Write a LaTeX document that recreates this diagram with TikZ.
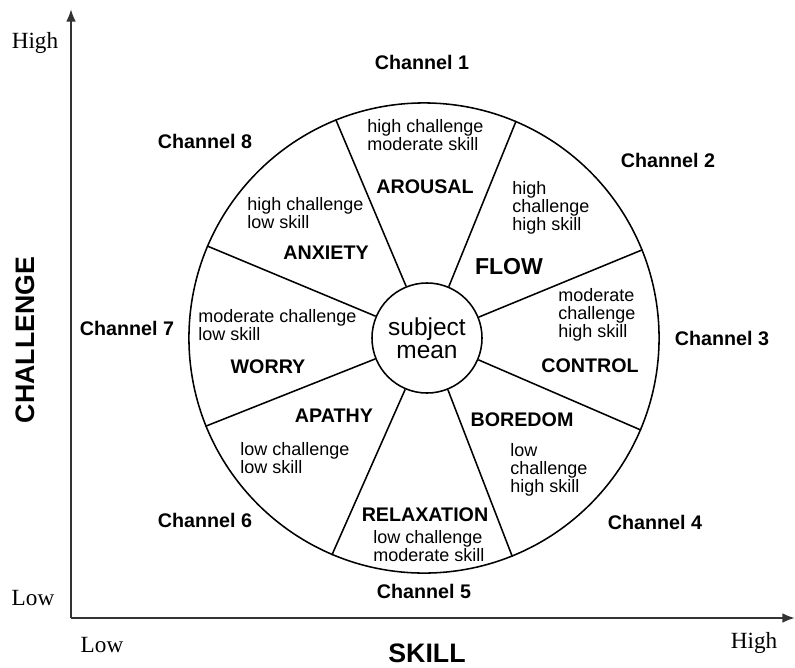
\documentclass[tikz,border=0pt]{standalone}
\usepackage{fontspec}
\setmainfont{Liberation Sans}
\newfontfamily\axisfont{Liberation Serif}
\usetikzlibrary{arrows.meta}

\begin{document}
\begin{tikzpicture}[x=0.025cm,y=-0.025cm,
    chan/.style={font=\bfseries\fontsize{14}{16}\selectfont,inner sep=0pt},
    mood/.style={font=\bfseries\fontsize{14}{16}\selectfont,inner sep=0pt},
    desc/.style={font=\fontsize{12.8}{13}\selectfont,align=left,anchor=west,inner sep=0pt},
    tick/.style={font=\axisfont\fontsize{16.5}{18}\selectfont,inner sep=0pt},
    axis/.style={line width=1.6pt,draw=black!80,-{Latex[length=9pt,width=7pt]}}]
    \useasboundingbox (0,0) rectangle (795,667);

    % Axes
    \coordinate (origin) at (71,618);
    \coordinate (ytop) at (71,9);
    \coordinate (xend) at (795,618);
    \draw[axis] (origin) -- (ytop);
    \draw[axis] (origin) -- (xend);
    \node[tick] (chigh) at (35,43) {High};
    \node[tick] (clow) at (33,598) {Low};
    \node[tick] (slow) at (102,645) {Low};
    \node[tick] (shigh) at (754,643) {High};
    \node[font=\bfseries\fontsize{19}{21}\selectfont,inner sep=0pt] (skill) at (427,653) {SKILL};
    \node[font=\bfseries\fontsize{19}{21}\selectfont,inner sep=0pt,rotate=90] (challenge) at (25,340) {CHALLENGE};

    % Wheel
    \node[circle,draw,line width=1.1pt,minimum size=11.75cm,inner sep=0pt] (wheel) at (424,338) {};
    \node[circle,draw,line width=1.1pt,minimum size=2.75cm,inner sep=0pt,align=center,
          font=\fontsize{17.4}{16.5}\selectfont] (mean) at (427,338) {subject\\mean};
    \foreach \a in {22.5,67.5,...,337.5}
        \draw[line width=1.1pt] (mean.\a) -- (wheel.\a);

    % Channels
    \node[chan] (ch1) at (422,62) {Channel 1};
    \node[chan] (ch2) at (668,160) {Channel 2};
    \node[chan] (ch3) at (722,338) {Channel 3};
    \node[chan] (ch4) at (655,522) {Channel 4};
    \node[chan] (ch5) at (424,591) {Channel 5};
    \node[chan] (ch6) at (205,520) {Channel 6};
    \node[chan] (ch7) at (127,328) {Channel 7};
    \node[chan] (ch8) at (205,141) {Channel 8};

    % Sectors
    \node[desc] (arousaltxt) at (367,135) {high challenge\\moderate skill};
    \node[mood] (arousal) at (425,187) {AROUSAL};
    \node[desc] (flowtxt) at (512,208) {high\\challenge\\high skill};
    \node[font=\bfseries\fontsize{16.4}{18}\selectfont,inner sep=0pt] (flow) at (509,267) {FLOW};
    \node[desc] (controltxt) at (558,315) {moderate\\challenge\\high skill};
    \node[mood] (control) at (590,366) {CONTROL};
    \node[mood] (boredom) at (522,420) {BOREDOM};
    \node[desc] (boredomtxt) at (510,470) {low\\challenge\\high skill};
    \node[mood] (relaxation) at (425,515) {RELAXATION};
    \node[desc] (relaxationtxt) at (373,546) {low challenge\\moderate skill};
    \node[mood] (apathy) at (334,416) {APATHY};
    \node[desc] (apathytxt) at (240,458) {low challenge\\low skill};
    \node[mood] (worry) at (268,367) {WORRY};
    \node[desc] (worrytxt) at (198,325) {moderate challenge\\low skill};
    \node[desc] (anxietytxt) at (247,213) {high challenge\\low skill};
    \node[mood] (anxiety) at (326,253) {ANXIETY};
\end{tikzpicture}
\end{document}
